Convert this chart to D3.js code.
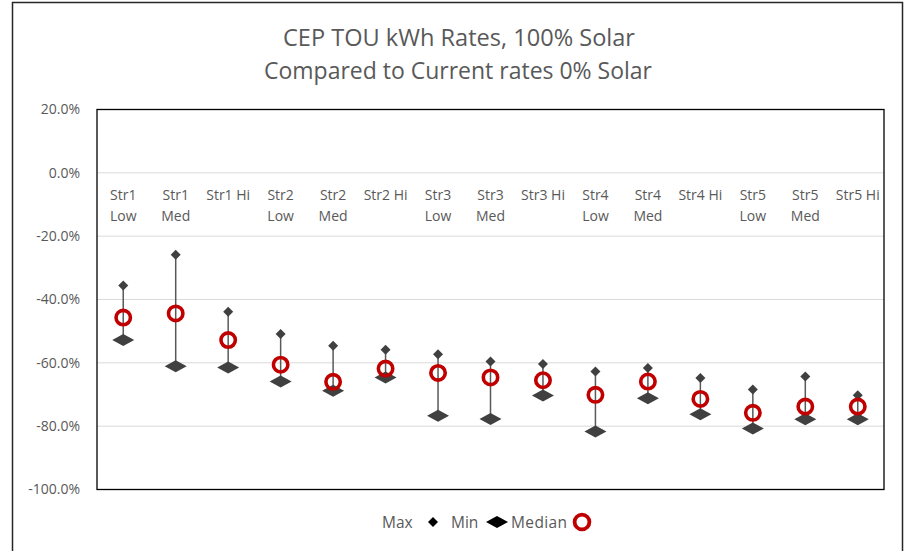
<!DOCTYPE html>
<html>
<head>
<meta charset="utf-8">
<script src="https://cdn.jsdelivr.net/npm/d3@7"></script>
<style>
	body { margin: 0; background: #fff; }
	text { font-family: "Open Sans", "Liberation Sans", sans-serif; fill: #595959; }
</style>
</head>
<body>
<svg id="chart" width="906" height="551"></svg>
<script>
// categories and values (percent change)
var categories = ["Str1 Low", "Str1 Med", "Str1 Hi", "Str2 Low", "Str2 Med", "Str2 Hi",
	"Str3 Low", "Str3 Med", "Str3 Hi", "Str4 Low", "Str4 Med", "Str4 Hi",
	"Str5 Low", "Str5 Med", "Str5 Hi"];
var maxValues = [-35.6, -25.9, -43.9, -50.9, -54.6, -55.9, -57.3, -59.6, -60.4, -62.7, -61.6, -64.8, -68.4, -64.3, -70.2];
var minValues = [-52.8, -61.1, -61.5, -65.9, -68.8, -64.6, -76.7, -77.7, -70.3, -81.7, -71.2, -76.2, -80.7, -77.8, -77.8];
var medianValues = [-45.7, -44.4, -52.8, -60.6, -66.0, -61.8, -63.2, -64.6, -65.5, -70.1, -65.9, -71.4, -75.8, -73.8, -73.8];
var yTicks = [20, 0, -20, -40, -60, -80, -100];

var margin = { top: 109.5, right: 22, bottom: 61.5, left: 97 },
	width = 906 - margin.left - margin.right,
	height = 551 - margin.top - margin.bottom;

var svg = d3.select("#chart");

// outer chart border
svg.append("rect")
	.attr("x", 12.5).attr("y", 2.5)
	.attr("width", 890).attr("height", 560)
	.attr("fill", "none")
	.attr("stroke", "#262626")
	.attr("stroke-width", 1.5);

// title (squeezed to the width of the original condensed font)
var title = svg.append("text")
	.attr("text-anchor", "middle")
	.style("font-size", "23px");
title.append("tspan").attr("x", 459).attr("y", 46)
	.attr("textLength", 352).attr("lengthAdjust", "spacingAndGlyphs")
	.text("CEP TOU kWh Rates, 100% Solar");
title.append("tspan").attr("x", 458).attr("y", 79)
	.attr("textLength", 388).attr("lengthAdjust", "spacingAndGlyphs")
	.text("Compared to Current rates 0% Solar");

var g = svg.append("g")
	.attr("transform", "translate(" + margin.left + "," + margin.top + ")");

var x = d3.scaleBand().domain(categories).range([0, width]);
var y = d3.scaleLinear().domain([-100, 20]).range([height, 0]);

// gridlines
g.append("g")
	.selectAll("line")
	.data(yTicks)
	.enter().append("line")
	.attr("x1", 0).attr("x2", width)
	.attr("y1", function (d) { return y(d); })
	.attr("y2", function (d) { return y(d); })
	.attr("stroke", "#d9d9d9")
	.attr("stroke-width", 1);

// y axis labels
var yAxis = d3.axisLeft(y)
	.tickValues(yTicks)
	.tickSize(0)
	.tickPadding(17)
	.tickFormat(function (d) { return d.toFixed(1) + "%"; });
g.append("g")
	.call(yAxis)
	.call(function (a) { a.select(".domain").remove(); })
	.selectAll("text")
	.style("font-size", "14px")
	.style("fill", "#595959");

// plot area border
g.append("rect")
	.attr("width", width).attr("height", height)
	.attr("fill", "none")
	.attr("stroke", "#000")
	.attr("stroke-width", 1.3);

// category labels sitting under the 0% line
var cat = g.append("g").selectAll("text")
	.data(categories)
	.enter().append("text")
	.attr("text-anchor", "middle")
	.style("font-size", "14px")
	.attr("transform", function (d) { return "translate(" + (x(d) + x.bandwidth() / 2) + "," + (y(0) + 27) + ")"; });
cat.each(function (d) {
	var parts = d.split(" ");
	var t = d3.select(this);
	if (parts[1] == "Hi") {
		t.append("tspan").attr("x", 0).attr("y", 0).text(d);
	} else {
		t.append("tspan").attr("x", 0).attr("y", 0).text(parts[0]);
		t.append("tspan").attr("x", 0).attr("y", 21).text(parts[1]);
	}
});

var pts = categories.map(function (c, i) {
	return { cat: c, max: maxValues[i], min: minValues[i], median: medianValues[i] };
});
function cx(d) { return x(d.cat) + x.bandwidth() / 2; }

// high-low lines
g.append("g").selectAll("line")
	.data(pts)
	.enter().append("line")
	.attr("x1", cx).attr("x2", cx)
	.attr("y1", function (d) { return y(d.max); })
	.attr("y2", function (d) { return y(d.min); })
	.attr("stroke", "#595959")
	.attr("stroke-width", 1.5);

var smallDiamond = "M0,-5L5,0L0,5L-5,0Z";
var wideDiamond = "M0,-6L11,0L0,6L-11,0Z";

// max markers
g.append("g").selectAll("path")
	.data(pts)
	.enter().append("path")
	.attr("d", smallDiamond)
	.attr("fill", "#404040")
	.attr("transform", function (d) { return "translate(" + cx(d) + "," + y(d.max) + ")"; });

// min markers
g.append("g").selectAll("path")
	.data(pts)
	.enter().append("path")
	.attr("d", wideDiamond)
	.attr("fill", "#404040")
	.attr("transform", function (d) { return "translate(" + cx(d) + "," + y(d.min) + ")"; });

// median markers
g.append("g").selectAll("circle")
	.data(pts)
	.enter().append("circle")
	.attr("cx", cx)
	.attr("cy", function (d) { return y(d.median); })
	.attr("r", 7.2)
	.attr("fill", "none")
	.attr("stroke", "#c00000")
	.attr("stroke-width", 3.6);

// legend
var legend = svg.append("g").attr("transform", "translate(0,522)");
legend.append("text").attr("x", 382).attr("y", 5.5).style("font-size", "15.5px").text("Max");
legend.append("path").attr("d", smallDiamond).attr("fill", "#000").attr("transform", "translate(433,0)");
legend.append("text").attr("x", 451).attr("y", 5.5).style("font-size", "15.5px").text("Min");
legend.append("path").attr("d", wideDiamond).attr("fill", "#000").attr("transform", "translate(497,0)");
legend.append("text").attr("x", 511).attr("y", 5.5).style("font-size", "15.5px")
	.attr("textLength", 56).text("Median");
legend.append("circle").attr("cx", 582).attr("cy", 0).attr("r", 7.4)
	.attr("fill", "none").attr("stroke", "#c00000").attr("stroke-width", 3.8);
</script>
</body>
</html>
